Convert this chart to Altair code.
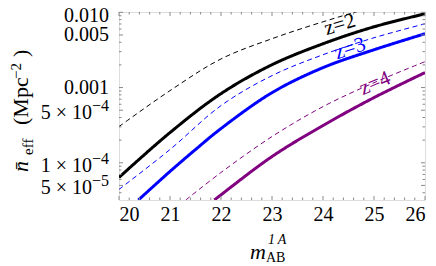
import altair as alt
import pandas as pd

# ---- data ----
m_grid = [20, 21, 22, 23, 24, 25, 26]
z2_solid = [6.38e-5, 2.52e-4, 8.30e-4, 2.01e-3, 3.82e-3, 6.42e-3, 9.55e-3]
z2_dashed = [3.03e-4, 9.10e-4, 2.40e-3, 4.46e-3, 7.48e-3, 1.18e-2, 1.71e-2]
z3_dashed = [4.43e-5, 1.50e-4, 5.75e-4, 1.44e-3, 2.73e-3, 4.59e-3, 7.04e-3]
z3_solid_m = [20.38, 21, 21.5, 22, 23, 24, 25, 26]
z3_solid = [3.2e-5, 7.67e-5, 1.50e-4, 2.85e-4, 8.55e-4, 1.84e-3, 3.18e-3, 5.19e-3]
z4_dashed_m = [21.31, 22, 23, 24, 25, 26]
z4_dashed = [3.2e-5, 7.43e-5, 2.23e-4, 5.58e-4, 1.16e-3, 2.21e-3]
z4_solid_m = [21.87, 22, 23, 24, 25, 26]
z4_solid = [3.2e-5, 3.75e-5, 1.21e-4, 3.13e-4, 7.35e-4, 1.58e-3]

x_major = [20, 21, 22, 23, 24, 25, 26]
x_minor = [round(20 + 0.2 * i, 1) for i in range(31) if i % 5 != 0]
y_major = [5e-5, 1e-4, 5e-4, 1e-3, 5e-3, 1e-2]
y_minor = [4e-5, 6e-5, 7e-5, 8e-5, 9e-5, 2e-4, 3e-4, 4e-4, 6e-4, 7e-4, 8e-4,
           9e-4, 2e-3, 3e-3, 4e-3, 6e-3, 7e-3, 8e-3, 9e-3]

# y tick labels
dec_vals = [5e-3, 1e-3]
dec_text = ["0.005", "0.001"]
top_val = [1e-2]
top_text = ["0.010"]
exp_vals = [5e-4, 1e-4, 5e-5]
exp_mant = ["5 × 10", "1 × 10", "5 × 10"]
exp_pow = ["\u22124", "\u22124", "\u22125"]

labels = ["z=2", "z=3", "z=4"]
label_m = [24.33, 24.53, 25.02]
label_n = [6.83e-3, 3.28e-3, 1.13e-3]
label_angle = [343, 341, 337]
colors = ["#000000", "#0000ff", "#800080"]

W, H = 306, 188
FONT = "Liberation Serif"
GRAY = "#8a8a8a"
INTERP = "catmull-rom"

xs = alt.Scale(domain=[20, 26], nice=False, zero=False)
ys = alt.Scale(type="log", domain=[3.2e-5, 0.0101], nice=False)

xa_main = alt.Axis(values=x_major, labelFont=FONT, labelFontSize=20, ticks=False,
                   domain=False, grid=False, labelPadding=4, title=None,
                   labelColor="#000", format="d")

def line(ms, vs, color, dashed, first=False):
    df = pd.DataFrame({"m": ms, "n": vs})
    mk = alt.Chart(df).mark_line(
        color=color, clip=True, interpolate=INTERP,
        strokeWidth=1 if dashed else 3,
        strokeDash=[5, 3.5] if dashed else [1, 0],
    )
    if first:
        return mk.encode(x=alt.X("m:Q", scale=xs, axis=xa_main),
                         y=alt.Y("n:Q", scale=ys, axis=None))
    return mk.encode(x=alt.X("m:Q", scale=xs), y=alt.Y("n:Q", scale=ys))

layers = [
    line(m_grid, z2_dashed, colors[0], True, first=True),
    line(m_grid, z3_dashed, colors[1], True),
    line(z4_dashed_m, z4_dashed, colors[2], True),
    line(m_grid, z2_solid, colors[0], False),
    line(z3_solid_m, z3_solid, colors[1], False),
    line(z4_solid_m, z4_solid, colors[2], False),
]

# inward frame ticks
def xticks(vals, length):
    df = pd.DataFrame({"m": vals})
    b = alt.Chart(df).mark_rule(color=GRAY, strokeWidth=1).encode(
        x=alt.X("m:Q", scale=xs), y=alt.value(H), y2=alt.value(H - length))
    t = alt.Chart(df).mark_rule(color=GRAY, strokeWidth=1).encode(
        x=alt.X("m:Q", scale=xs), y=alt.value(0), y2=alt.value(length))
    return [b, t]

def yticks(vals, length):
    df = pd.DataFrame({"n": vals})
    l = alt.Chart(df).mark_rule(color=GRAY, strokeWidth=1).encode(
        y=alt.Y("n:Q", scale=ys), x=alt.value(0), x2=alt.value(length))
    r = alt.Chart(df).mark_rule(color=GRAY, strokeWidth=1).encode(
        y=alt.Y("n:Q", scale=ys), x=alt.value(W), x2=alt.value(W - length))
    return [l, r]

ticks = xticks(x_major, 4) + xticks(x_minor, 2.5) + yticks(y_major, 4) + yticks(y_minor, 2.5)

# y tick labels as text
def ylab(vals, texts, x, size, baseline, dy, align="right"):
    df = pd.DataFrame({"n": vals, "t": texts})
    return alt.Chart(df).mark_text(
        font=FONT, fontSize=size, color="#000", align=align, baseline=baseline, dy=dy
    ).encode(x=alt.value(x), y=alt.Y("n:Q", scale=ys), text="t:N")

ylabels = [
    ylab(dec_vals, dec_text, -10, 20, "middle", 0),
    ylab(top_val, top_text, -10, 20, "middle", 4),
    ylab(exp_vals, exp_pow, -10, 16, "alphabetic", 1),
    ylab(exp_vals, exp_mant, -27, 20, "alphabetic", 9),
]

# curve labels
curve_labels = []
for t, mm, nn, a, c in zip(labels, label_m, label_n, label_angle, colors):
    df = pd.DataFrame({"m": [mm], "n": [nn], "t": [t]})
    curve_labels.append(alt.Chart(df).mark_text(
        font=FONT, fontSize=21, color=c, angle=a, align="center", baseline="middle"
    ).encode(x=alt.X("m:Q", scale=xs), y=alt.Y("n:Q", scale=ys), text="t:N"))

# axis titles with sub/superscripts
def txt(s, x, y, size, angle=0, style="normal"):
    return alt.Chart(pd.DataFrame({"a": [0]})).mark_text(
        text=s, font=FONT, fontSize=size, fontStyle=style, angle=angle,
        align="left", baseline="alphabetic", color="#000"
    ).encode(x=alt.value(x), y=alt.value(y))

titles = [
    txt("n\u0304", -91, 160, 22, 270, "italic"),
    txt("eff", -86, 143, 15, 270),
    txt("(Mpc", -91, 113, 22, 270),
    txt("\u22122", -98, 67, 15, 270),
    txt(")", -91, 45, 22, 270),
    txt("m", 131, 247, 22, 0, "italic"),
    txt("1\u2009A", 149, 232, 14, 0, "italic"),
    txt("AB", 147, 250, 14, 0),
]

chart = alt.layer(*layers, *ticks, *ylabels, *curve_labels, *titles).properties(
    width=W, height=H,
    autosize=alt.AutoSizeParams(type="none"),
    padding={"left": 111, "top": 4, "right": 3, "bottom": 66},
).configure_view(stroke=GRAY, strokeWidth=1).configure(background="white")

chart.save("out.html", embed_options={"renderer": "svg", "actions": False})
